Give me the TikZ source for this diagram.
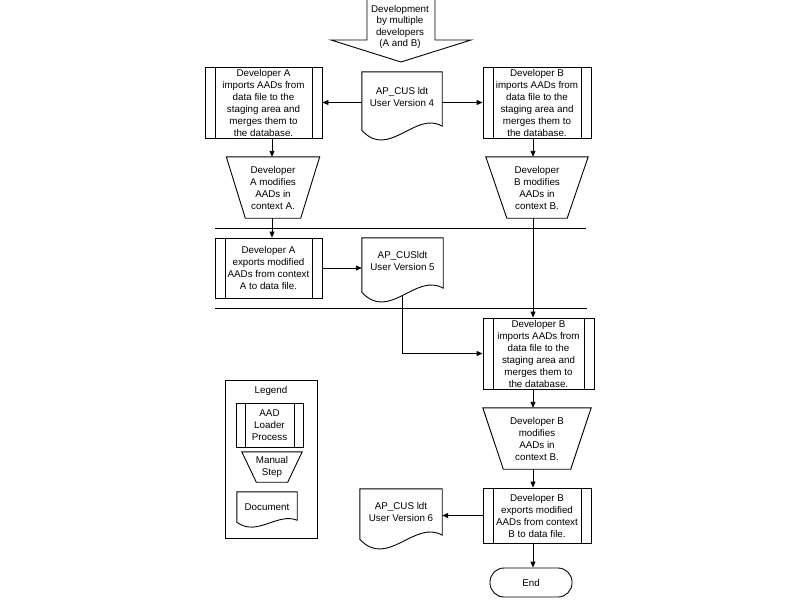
\documentclass[tikz,border=0pt]{standalone}
\usepackage{fontspec}
\setmainfont{Liberation Sans}
\usetikzlibrary{arrows.meta,calc}
\tikzset{
  every node/.style={font=\fontsize{9.8}{12}\selectfont, align=center, inner sep=0pt},
  base/.style={line width=0.9pt},
  proc/.style={draw, line width=0.9pt, rectangle,
    path picture={\draw[line width=0.9pt]
      ([xshift=#1]path picture bounding box.north west) -- ([xshift=#1]path picture bounding box.south west)
      ([xshift=-#1]path picture bounding box.north east) -- ([xshift=-#1]path picture bounding box.south east);}},
  proc/.default=10pt,
  docn/.style={rectangle},
  mnode/.style={rectangle},
  arr/.style={line width=0.9pt, -{Triangle[length=6pt,width=5pt]}},
  termn/.style={draw, line width=0.9pt, rectangle, rounded corners=14pt},
}
\newcommand{\mstep}[2]{\draw[base] (#1.north west) -- (#1.north east) -- ([xshift=-#2]#1.south east) -- ([xshift=#2]#1.south west) -- cycle;}
\newcommand{\docshape}[2]{\draw[base] ([yshift=#2*10pt]#1.south west) -- (#1.north west) -- (#1.north east) -- ([yshift=#2*14pt]#1.south east) .. controls ([yshift=#2*30pt]$(#1.south west)!0.667!(#1.south east)$) and ([yshift=-#2*20pt]$(#1.south west)!0.333!(#1.south east)$) .. cycle;}
\begin{document}
\begin{tikzpicture}[x=1pt,y=-1pt]
\useasboundingbox (0,0) rectangle (800,600);
\coordinate (colA) at (272,0);
\coordinate (colB) at (533,0);

% block arrow
\draw[base] (367,-2) -- (367,40) -- (331,40) -- (401,62) -- (471,40) -- (435,40) -- (435,-2);
\node[font=\fontsize{9.8}{11.3}\selectfont] (dev) at (400,27) {Development\\by multiple\\developers\\(A and B)};

% row 1
\node[proc, minimum width=117, minimum height=71] (aimp) at (263.5,102.5) {Developer A\\imports AADs from\\data file to the\\staging area and\\merges them to\\the database.};
\node[docn, minimum width=80, minimum height=68, label={[yshift=9]center:{AP\_CUS ldt\\User Version 4}}] (d4) at (402,106) {};
\docshape{d4}{1}
\node[proc, minimum width=108, minimum height=71] (bimp) at (537,102.5) {Developer B\\imports AADs from\\data file to the\\staging area and\\merges them to\\the database.};

% row 2
\node[mnode, minimum width=93, minimum height=61] (atrap) at (273,187.5) {Developer\\A modifies\\AADs in\\context A.};
\mstep{atrap}{19pt}
\node[mnode, minimum width=102, minimum height=61] (btrap) at (537,187.5) {Developer\\B modifies\\AADs in\\context B.};
\mstep{btrap}{21pt}

% separators
\draw[base] (215,228.5) -- (586,228.5);
\draw[base] (215,308.5) -- (587,308.5);

% row 3
\node[proc, minimum width=107, minimum height=60] (aexp) at (268.5,268) {Developer A\\exports modified\\AADs from context\\A to data file.};
\node[docn, minimum width=81, minimum height=64, label={[yshift=9]center:{AP\_CUSldt\\User Version 5}}] (d5) at (402.5,270) {};
\docshape{d5}{1}

% row 4
\node[proc, minimum width=111, minimum height=71] (bimp2) at (538.5,353.5) {Developer B\\imports AADs from\\data file to the\\staging area and\\merges them to\\the database.};
\node[mnode, minimum width=108, minimum height=61] (btrap2) at (537,438.5) {Developer B\\modifies\\AADs in\\context B.};
\mstep{btrap2}{20.5pt}
\node[proc, minimum width=108, minimum height=55] (bexp) at (537,515.5) {Developer B\\exports modified\\AADs from context\\B to data file.};
\node[termn, minimum width=82, minimum height=29] (endn) at (531,582.5) {End};
\node[docn, minimum width=82, minimum height=60, label={[yshift=7.5]center:{AP\_CUS ldt\\User Version 6}}] (d6) at (401,519) {};
\docshape{d6}{1}

% legend
\node[draw, line width=0.9pt, rectangle, minimum width=92, minimum height=158] (leg) at (271,459) {};
\node (legt) at (271,391) {Legend};
\node[proc=9pt, minimum width=67, minimum height=44] (lproc) at (269.5,425) {AAD\\Loader\\Process};
\node[mnode, minimum width=60, minimum height=30] (ltrap) at (272,467) {Manual\\Step};
\mstep{ltrap}{14.5pt}
\node[docn, minimum width=60, minimum height=35, label={[yshift=2.5]center:{Document}}] (ldoc) at (267,509.5) {};
\docshape{ldoc}{0.5}

% connectors
\draw[arr] (d4.west |- aimp.east) -- (aimp.east);
\draw[arr] (d4.east |- bimp.west) -- (bimp.west);
\draw[arr] (aimp.south -| colA) -- (atrap.north -| colA);
\draw[arr] (atrap.south -| colA) -- (aexp.north -| colA);
\draw[arr] (bimp.south -| colB) -- (btrap.north -| colB);
\draw[arr] (btrap.south -| colB) -- (bimp2.north -| colB);
\draw[arr] (aexp.east) -- (d5.west |- aexp.east);
\draw[arr] ([yshift=6]d5.south) |- (bimp2.west);
\draw[arr] (bimp2.south -| colB) -- (btrap2.north -| colB);
\draw[arr] (btrap2.south -| colB) -- (bexp.north -| colB);
\draw[arr] (bexp.south -| colB) -- (endn.north -| colB);
\draw[arr] (bexp.west) -- (d6.east |- bexp.west);
\end{tikzpicture}
\end{document}
